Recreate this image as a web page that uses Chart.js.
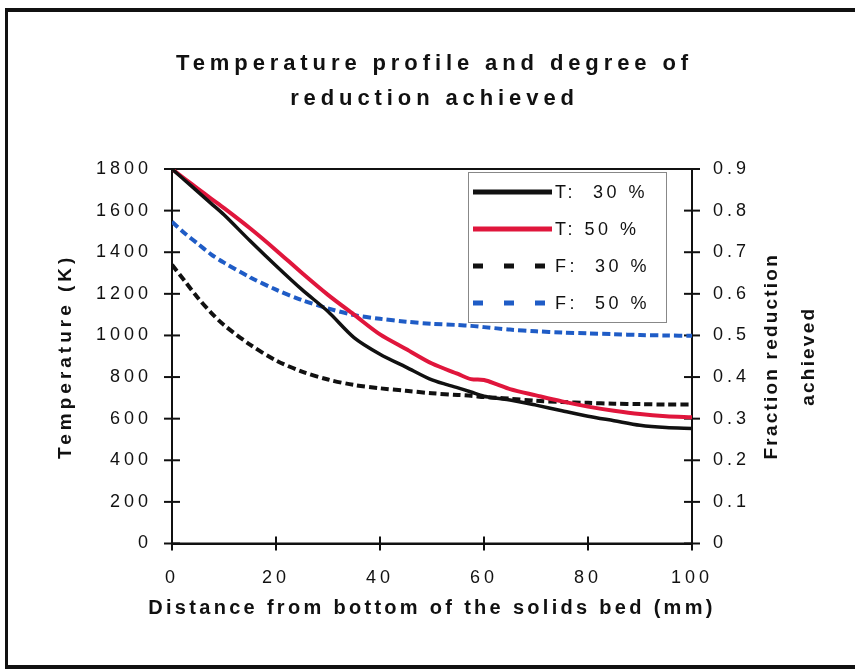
<!DOCTYPE html>
<html>
<head>
<meta charset="utf-8">
<script src="https://cdn.jsdelivr.net/npm/chart.js@4/dist/chart.umd.min.js"></script>
<style>
  html, body { margin: 0; padding: 0; background: #fff; }
  #wrap { position: relative; width: 855px; height: 669px; overflow: hidden; }
  #myChart { position: absolute; left: 0; top: 0; }
  #frame {
    position: absolute; left: 5px; top: 8px; width: 860px; height: 653px;
    border-top: 4px solid #111; border-left: 3px solid #111; border-bottom: 4px solid #111;
    pointer-events: none;
  }
</style>
</head>
<body>
<div id="wrap">
  <canvas id="myChart" width="855" height="669"></canvas>
  <div id="frame"></div>
</div>
<script>
// distance from bottom of the bed (mm)
var distance = [0, 2.5, 5, 7.5, 10, 15, 20, 25, 30, 35, 40, 45, 50, 55, 57.5, 60, 62.5, 65, 70, 75, 80, 85, 90, 95, 100];

// temperature (K)
var temp30 = [1800, 1745, 1690, 1635, 1580, 1455, 1335, 1220, 1115, 990, 910, 848, 786, 748, 728, 708, 698, 690, 665, 638, 612, 590, 568, 557, 553];
var temp50 = [1800, 1752, 1705, 1658, 1612, 1515, 1410, 1300, 1195, 1100, 1005, 935, 865, 815, 790, 786, 765, 742, 712, 683, 658, 638, 622, 612, 607];

// fraction reduction achieved
var frac30 = [0.67, 0.63, 0.59, 0.555, 0.525, 0.478, 0.44, 0.413, 0.394, 0.381, 0.373, 0.367, 0.361, 0.357, 0.355, 0.352, 0.35, 0.348, 0.343, 0.34, 0.338, 0.336, 0.335, 0.334, 0.334];
var frac50 = [0.773, 0.745, 0.72, 0.695, 0.675, 0.64, 0.61, 0.585, 0.565, 0.549, 0.54, 0.533, 0.528, 0.525, 0.523, 0.52, 0.517, 0.514, 0.51, 0.507, 0.505, 0.503, 0.501, 0.5, 0.499];

var seriesLabels = ['T:  30 %', 'T: 50 %', 'F:  30 %', 'F:  50 %'];
var titleLines = ['Temperature profile and degree of', 'reduction achieved'];
var xTitle = 'Distance from bottom of the solids bed (mm)';
var yTitle = 'Temperature (K)';
var y1TitleLines = ['Fraction reduction', 'achieved'];

var FONT = '"Liberation Sans", Arial, Helvetica, sans-serif';
var INK = '#111';

function pts(ys) {
    var out = [];
    for (var i = 0; i < distance.length; i++) {
        out.push({x: distance[i], y: ys[i]});
    }
    return out;
}

Chart.defaults.font.family = FONT;
Chart.defaults.color = INK;

// wide letter spacing like the scanned original (titles wider than tick labels)
const spacing = {
    id: 'spacing',
    beforeLayout(chart) { chart.ctx.letterSpacing = '4px'; },
    afterLayout(chart) {
        var wrap = function (item, key, sp) {
            if (!item || item['_sp_' + key]) return;
            var orig = item[key];
            item[key] = function () {
                var c = this.ctx;
                var prev = c.letterSpacing;
                c.letterSpacing = sp;
                orig.apply(this, arguments);
                c.letterSpacing = prev;
            };
            item['_sp_' + key] = true;
        };
        wrap(chart.titleBlock, 'draw', '4.9px');
        wrap(chart.scales.y, 'drawTitle', '4px');
    },
    beforeDraw(chart) { chart.ctx.letterSpacing = '4px'; }
};

// frame round the plot area and ticks crossing the axes
const axisTicks = {
    id: 'axisTicks',
    beforeDatasetsDraw(chart) {
        const ctx = chart.ctx;
        const a = chart.chartArea;
        ctx.save();
        ctx.strokeStyle = INK;
        ctx.lineWidth = 2;
        ctx.strokeRect(a.left, a.top, a.right - a.left, a.bottom - a.top);
        ['x', 'y', 'y1'].forEach(function (id) {
            const s = chart.scales[id];
            s.ticks.forEach(function (t, i) {
                const p = s.getPixelForTick(i);
                ctx.beginPath();
                if (s.isHorizontal()) {
                    ctx.moveTo(p, a.bottom - 7);
                    ctx.lineTo(p, a.bottom + 7);
                } else {
                    const ax = id === 'y' ? a.left : a.right;
                    ctx.moveTo(ax - 8, p);
                    ctx.lineTo(ax + 8, p);
                }
                ctx.stroke();
            });
        });
        ctx.restore();
    }
};

// legend box sitting inside the plot, top right
const boxLegend = {
    id: 'boxLegend',
    afterDatasetsDraw(chart, args, opts) {
        const ctx = chart.ctx;
        const a = chart.chartArea;
        const left = a.right - 224, top = a.top + 3, w = 198, h = 150;
        ctx.save();
        ctx.letterSpacing = '3.5px';
        ctx.fillStyle = '#fff';
        ctx.fillRect(left, top, w, h);
        ctx.strokeStyle = '#888';
        ctx.lineWidth = 1;
        ctx.strokeRect(left + 0.5, top + 0.5, w, h);
        ctx.font = '18px ' + FONT;
        ctx.textBaseline = 'middle';
        ctx.textAlign = 'left';
        chart.data.datasets.forEach(function (ds, i) {
            const y = top + 20 + i * 37;
            ctx.beginPath();
            ctx.strokeStyle = ds.borderColor;
            ctx.lineWidth = 5;
            ctx.setLineDash(ds.borderDash && ds.borderDash.length ? opts.dash : []);
            ctx.moveTo(left + 5, y);
            ctx.lineTo(left + 84, y);
            ctx.stroke();
            ctx.setLineDash([]);
            ctx.fillStyle = INK;
            ctx.fillText(ds.label, left + 87, y + 1);
        });
        ctx.restore();
    }
};

// axis titles that Chart.js cannot lay out like the original:
// the wide bottom one and the right one read bottom to top
const axisTitles = {
    id: 'axisTitles',
    afterDraw(chart, args, opts) {
        const ctx = chart.ctx;
        const xs = chart.scales.x;
        const s = chart.scales.y1;
        const cy = (s.top + s.bottom) / 2;
        ctx.save();
        ctx.fillStyle = INK;
        ctx.textAlign = 'center';
        ctx.textBaseline = 'middle';

        ctx.letterSpacing = '3.3px';
        ctx.font = 'bold 20px ' + FONT;
        ctx.fillText(opts.bottom, (xs.left + xs.right) / 2, xs.top + 65);

        ctx.letterSpacing = '2.2px';
        ctx.font = 'bold 19px ' + FONT;
        opts.right.forEach(function (line, i) {
            ctx.save();
            ctx.translate(s.left + 80 + i * 37, cy);
            ctx.rotate(-Math.PI / 2);
            ctx.fillText(line, 0, 0);
            ctx.restore();
        });
        ctx.restore();
    }
};

const ctx = document.getElementById('myChart').getContext('2d');
const chart = new Chart(ctx, {
    type: 'line',
    data: {
        datasets: [{
            label: seriesLabels[0],
            data: pts(temp30),
            yAxisID: 'y',
            borderColor: '#111111',
            borderWidth: 3.5
        }, {
            label: seriesLabels[1],
            data: pts(temp50),
            yAxisID: 'y',
            borderColor: '#e0163c',
            borderWidth: 4
        }, {
            label: seriesLabels[2],
            data: pts(frac30),
            yAxisID: 'y1',
            borderColor: '#111111',
            borderWidth: 4,
            borderDash: [8, 4]
        }, {
            label: seriesLabels[3],
            data: pts(frac50),
            yAxisID: 'y1',
            borderColor: '#1f5cc6',
            borderWidth: 4,
            borderDash: [8, 4]
        }]
    },
    options: {
        responsive: false,
        animation: false,
        layout: { padding: { left: 14, right: 0, top: 0, bottom: 0 } },
        elements: {
            point: { radius: 0 },
            line: { tension: 0.3, fill: false, borderCapStyle: 'butt' }
        },
        plugins: {
            legend: { display: false },
            tooltip: { enabled: false },
            title: {
                display: true,
                text: titleLines,
                color: INK,
                font: { size: 22, weight: 'bold', lineHeight: 1.6 },
                padding: { top: 46, bottom: 52.6 }
            },
            boxLegend: { dash: [10, 21] },
            axisTitles: { bottom: xTitle, right: y1TitleLines }
        },
        scales: {
            x: {
                type: 'linear',
                min: 0,
                max: 100,
                ticks: { stepSize: 20, padding: 16, font: { size: 18 } },
                grid: { display: false },
                border: { color: INK, width: 2 },
                afterFit: function (s) { s.height = 125.5; }
            },
            y: {
                position: 'left',
                min: 0,
                max: 1800,
                ticks: {
                    stepSize: 200,
                    padding: 12,
                    font: { size: 18 },
                    callback: function (v) { return String(v); }
                },
                grid: { display: false },
                border: { color: INK, width: 2 },
                title: {
                    display: true,
                    text: yTitle,
                    font: { size: 19, weight: 'bold' },
                    padding: { top: 40, bottom: 0 }
                },
                afterFit: function (s) { s.width = 158; }
            },
            y1: {
                position: 'right',
                min: 0,
                max: 0.9,
                ticks: {
                    stepSize: 0.1,
                    padding: 13,
                    font: { size: 18 },
                    callback: function (v) { return v === 0 ? '0' : v.toFixed(1); }
                },
                grid: { display: false },
                border: { color: INK, width: 2 },
                afterFit: function (s) { s.width = 163; }
            }
        }
    },
    plugins: [spacing, axisTicks, boxLegend, axisTitles]
});
</script>
</body>
</html>
